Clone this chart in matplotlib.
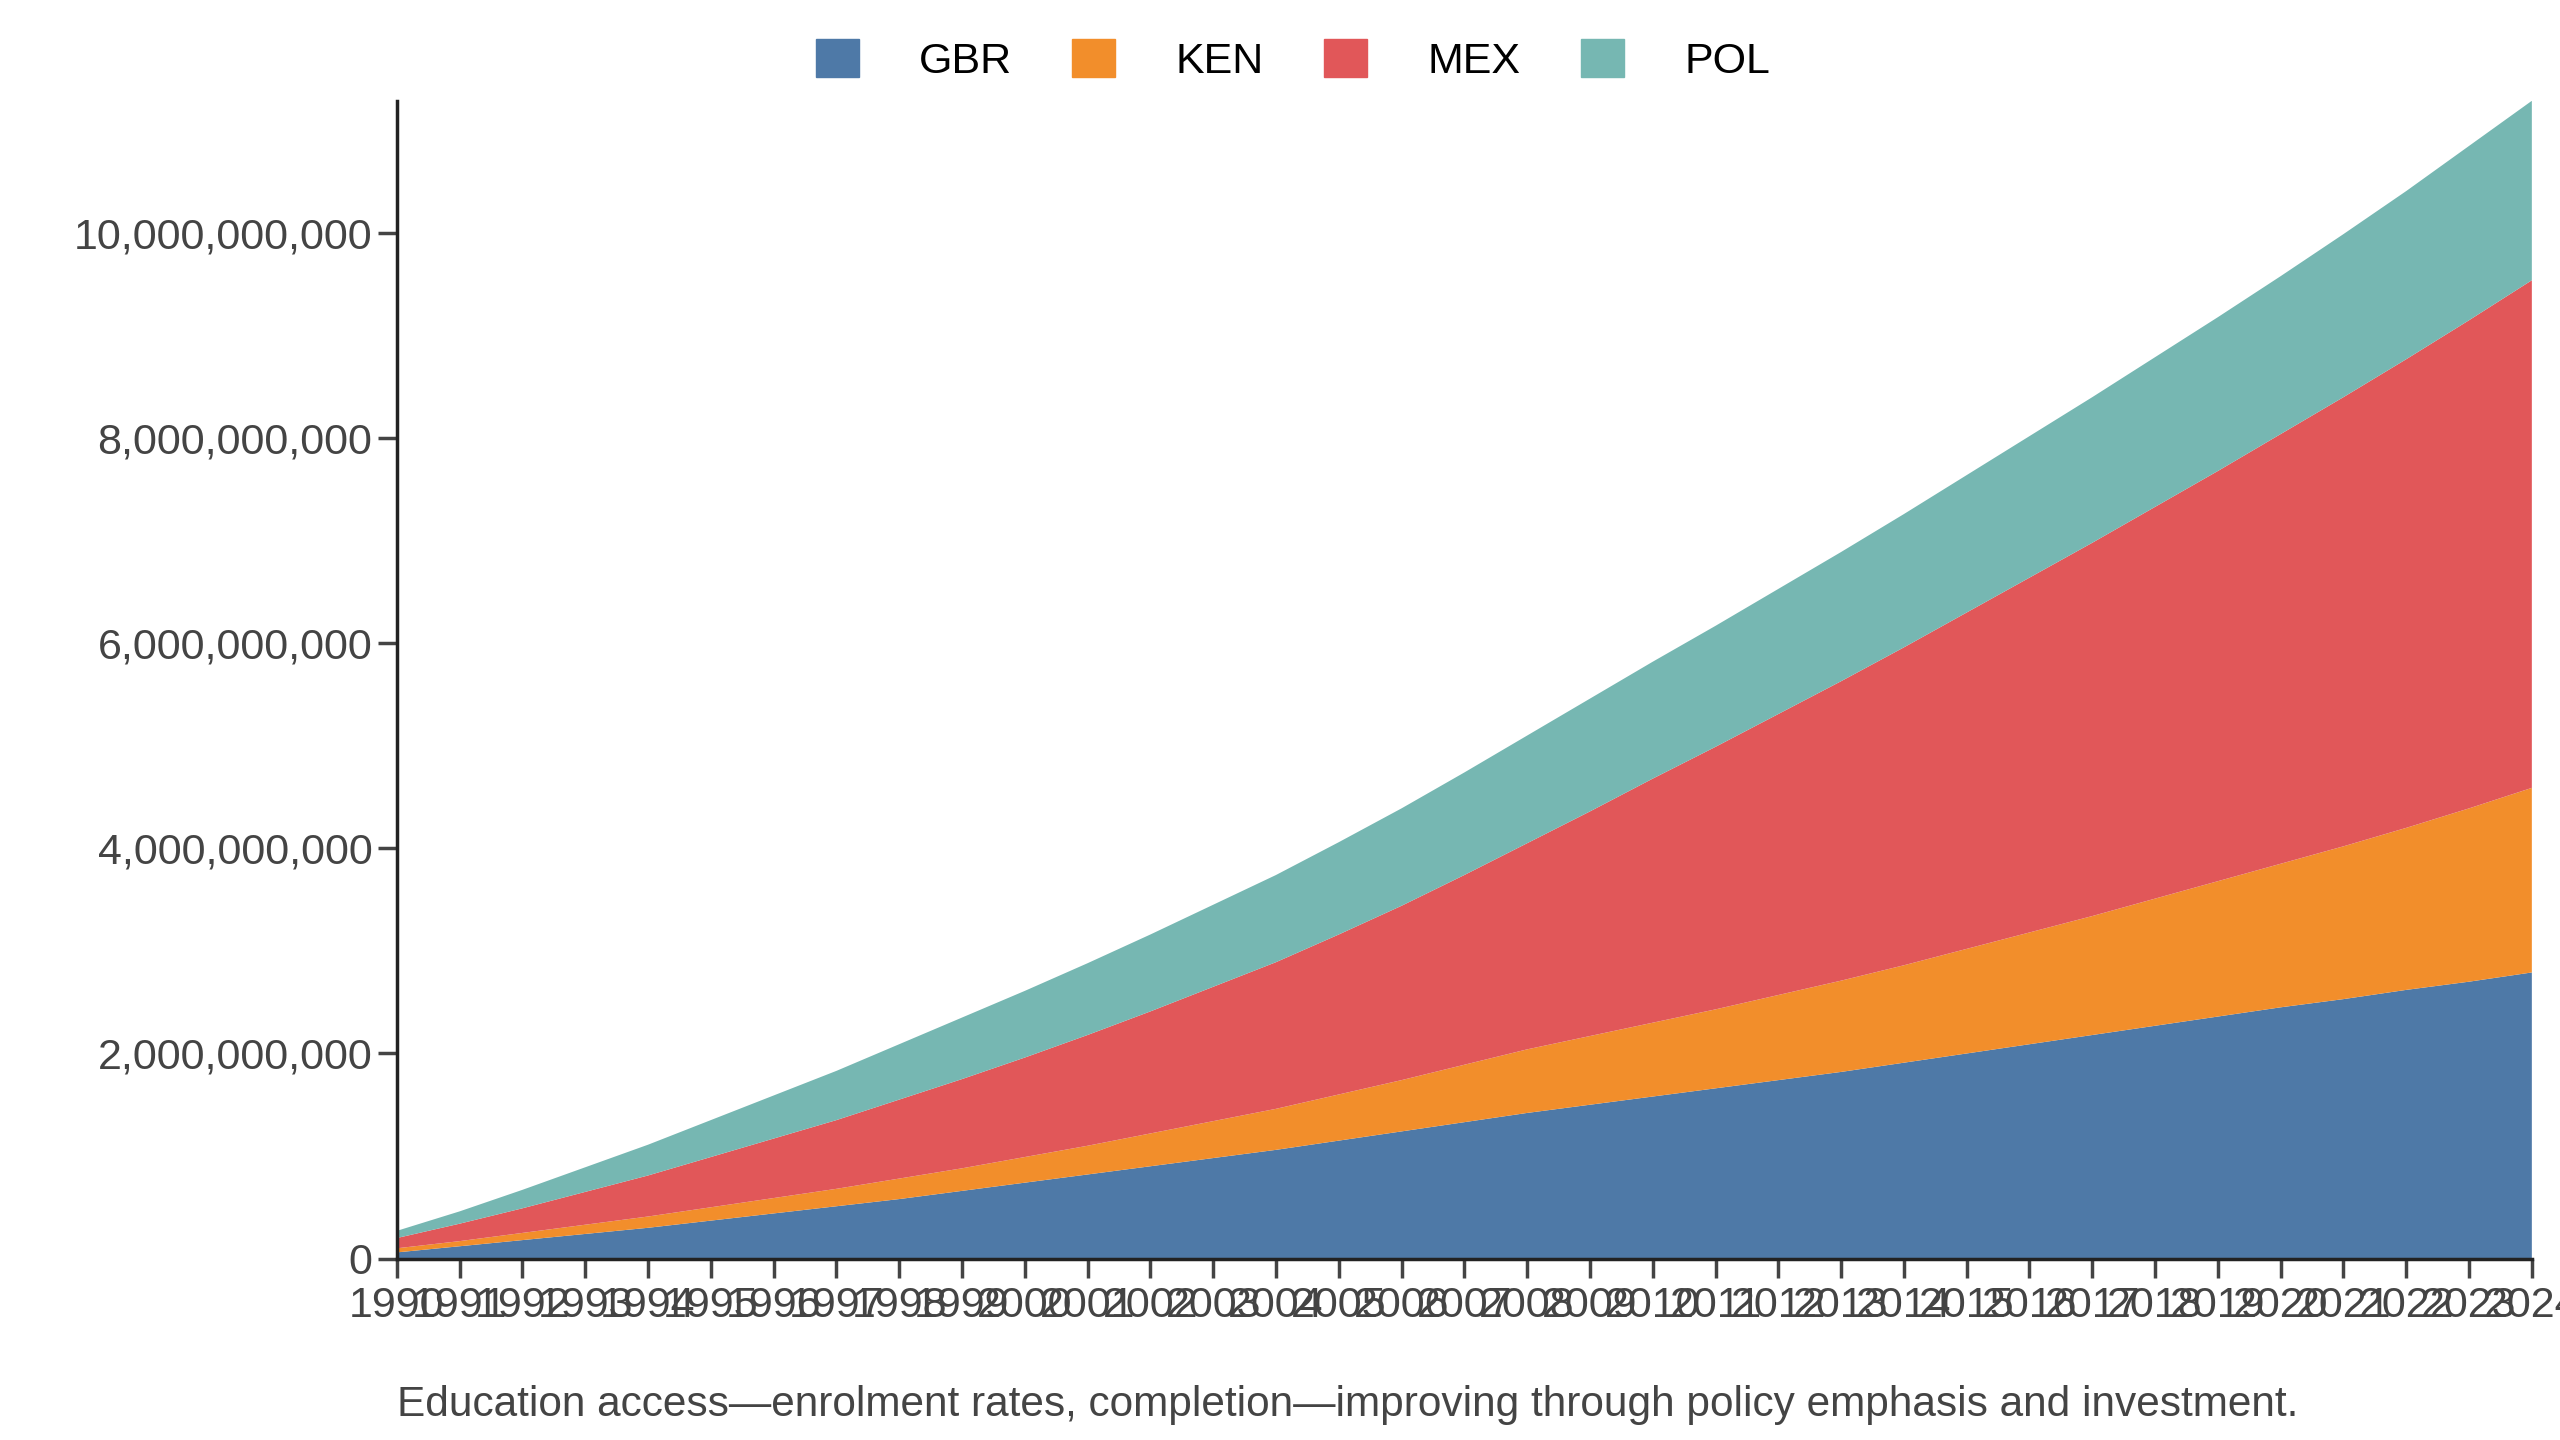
import matplotlib
matplotlib.use("Agg")
import matplotlib.pyplot as plt
from matplotlib.ticker import FuncFormatter
from matplotlib.patches import Patch

plt.rcParams['font.family'] = ['Liberation Sans', 'DejaVu Sans']

years = list(range(1990, 2025))
gbr = [0.06,0.12,0.18,0.24,0.30,0.37,0.44,0.51,0.58,0.66,0.74,0.82,0.90,0.98,1.06,1.15,1.24,1.33,
       1.42,1.50,1.58,1.66,1.74,1.82,1.91,2.00,2.09,2.18,2.27,2.36,2.45,2.53,2.62,2.70,2.79]
ken = [0.04,0.05,0.07,0.09,0.11,0.13,0.15,0.17,0.20,0.22,0.25,0.28,0.32,0.36,0.40,0.45,0.50,0.56,
       0.62,0.67,0.72,0.77,0.83,0.89,0.95,1.02,1.09,1.16,1.24,1.32,1.40,1.49,1.58,1.69,1.80]
mex = [0.10,0.17,0.24,0.32,0.40,0.49,0.58,0.67,0.77,0.87,0.97,1.08,1.19,1.31,1.43,1.56,1.70,1.85,
       2.01,2.19,2.38,2.56,2.74,2.92,3.10,3.28,3.46,3.64,3.82,4.00,4.19,4.38,4.57,4.76,4.95]
pol = [0.07,0.12,0.18,0.24,0.30,0.36,0.42,0.48,0.54,0.60,0.65,0.70,0.75,0.80,0.85,0.90,0.95,1.00,
       1.05,1.10,1.14,1.18,1.22,1.26,1.30,1.34,1.38,1.42,1.46,1.50,1.54,1.59,1.64,1.70,1.75]
names = ["GBR", "KEN", "MEX", "POL"]
colors = ["#4e79a7", "#f28e2b", "#e15759", "#76b7b2"]
series = [[v * 1e9 for v in s] for s in (gbr, ken, mex, pol)]

fig = plt.figure(figsize=(25.6, 14.4), dpi=100)
ax = fig.add_axes([0.155, 0.126, 0.834, 0.804])
ax.stackplot(years, *series, colors=colors, labels=names, linewidth=0)
ax.set_xlim(1990, 2024)
total = [sum(v) for v in zip(*series)]
ax.set_ylim(0, max(total))
ax.set_xticks(years)
ax.set_xticklabels([str(y) for y in years])
ax.yaxis.set_major_formatter(FuncFormatter(lambda v, p: f"{int(round(v)):,}"))
for s in ["top", "right"]:
    ax.spines[s].set_visible(False)
for s in ["left", "bottom"]:
    ax.spines[s].set_linewidth(2.5)
    ax.spines[s].set_color("#222222")
ax.tick_params(axis="both", labelsize=31, colors="#444444", width=2.5, length=14, direction="out")
ax.tick_params(axis="x", pad=6)
handles = [Patch(color=c, label=n) for n, c in zip(names, colors)]
fig.legend(handles=handles, loc="upper center", bbox_to_anchor=(0.505, 1.0), ncol=4, frameon=False,
           fontsize=31, handlelength=1.0, handleheight=1.0, columnspacing=1.4, handletextpad=1.4)
fig.text(0.155, 0.017, "Education access—enrolment rates, completion—improving through policy emphasis and investment.",
         fontsize=30.5, color="#444444", ha="left")
fig.savefig("out.png", dpi=100)
